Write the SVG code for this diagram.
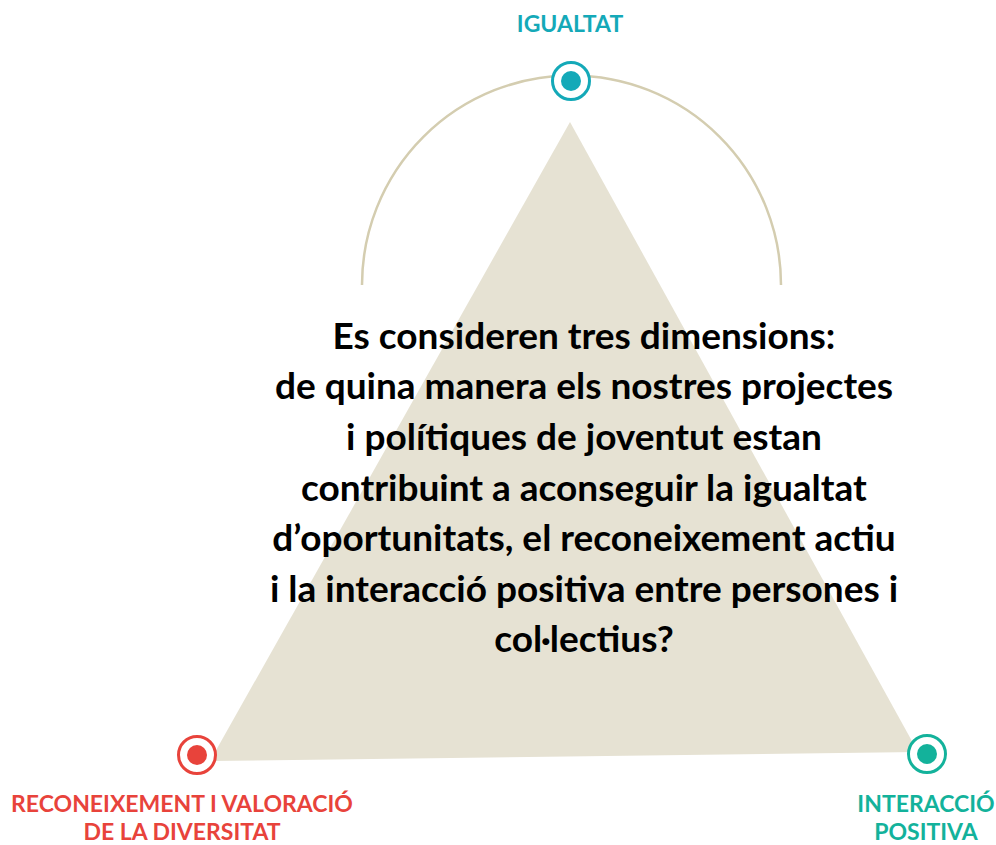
<svg xmlns="http://www.w3.org/2000/svg" width="996" height="845" viewBox="0 0 996 845">
<style>
.lbl{font-family:Lato,"Noto Sans",sans-serif;font-weight:700;font-size:23px;text-anchor:middle}
.main{font-family:Lato,"Noto Sans",sans-serif;font-weight:700;font-size:37px;text-anchor:middle;fill:#000}
.ring{fill:#fff;stroke-width:3}
</style>
<rect width="996" height="845" fill="#fff"/>
<polygon points="570,122 210,761 918,752" fill="#e6e2d3"/>
<g id="connectors">
<path d="M362,285 A209,209 0 0 1 781,285" fill="none" stroke="#d4cdb0" stroke-width="2.5"/>
</g>
<g id="text-center">
<text class="main" x="584" y="349">Es consideren tres dimensions:</text>
<text class="main" x="584" y="399">de quina manera els nostres projectes</text>
<text class="main" x="584" y="450">i polítiques de joventut estan</text>
<text class="main" x="584" y="501">contribuint a aconseguir la igualtat</text>
<text class="main" x="584" y="551">d’oportunitats, el reconeixement actiu</text>
<text class="main" x="584" y="602">i la interacció positiva entre persones i</text>
<text class="main" x="584" y="652">col·lectius?</text>
</g>
<g id="node-igualtat">
<circle class="ring" cx="571" cy="81" r="18.5" stroke="#14a9b8"/>
<circle cx="571" cy="81" r="10" fill="#14a9b8"/>
<text class="lbl" x="570" y="32" fill="#14a9b8">IGUALTAT</text>
</g>
<g id="node-reconeixement">
<circle class="ring" cx="197" cy="755" r="18.5" stroke="#e8433b"/>
<circle cx="197" cy="755" r="10" fill="#e8433b"/>
<text class="lbl" x="182" y="812" fill="#e8433b">RECONEIXEMENT I VALORACIÓ</text>
<text class="lbl" x="182" y="840" fill="#e8433b">DE LA DIVERSITAT</text>
</g>
<g id="node-interaccio">
<circle class="ring" cx="927" cy="754" r="18.5" stroke="#13b29b"/>
<circle cx="927" cy="754" r="10" fill="#13b29b"/>
<text class="lbl" x="926" y="812" fill="#13b29b">INTERACCIÓ</text>
<text class="lbl" x="926" y="840" fill="#13b29b">POSITIVA</text>
</g>
</svg>
